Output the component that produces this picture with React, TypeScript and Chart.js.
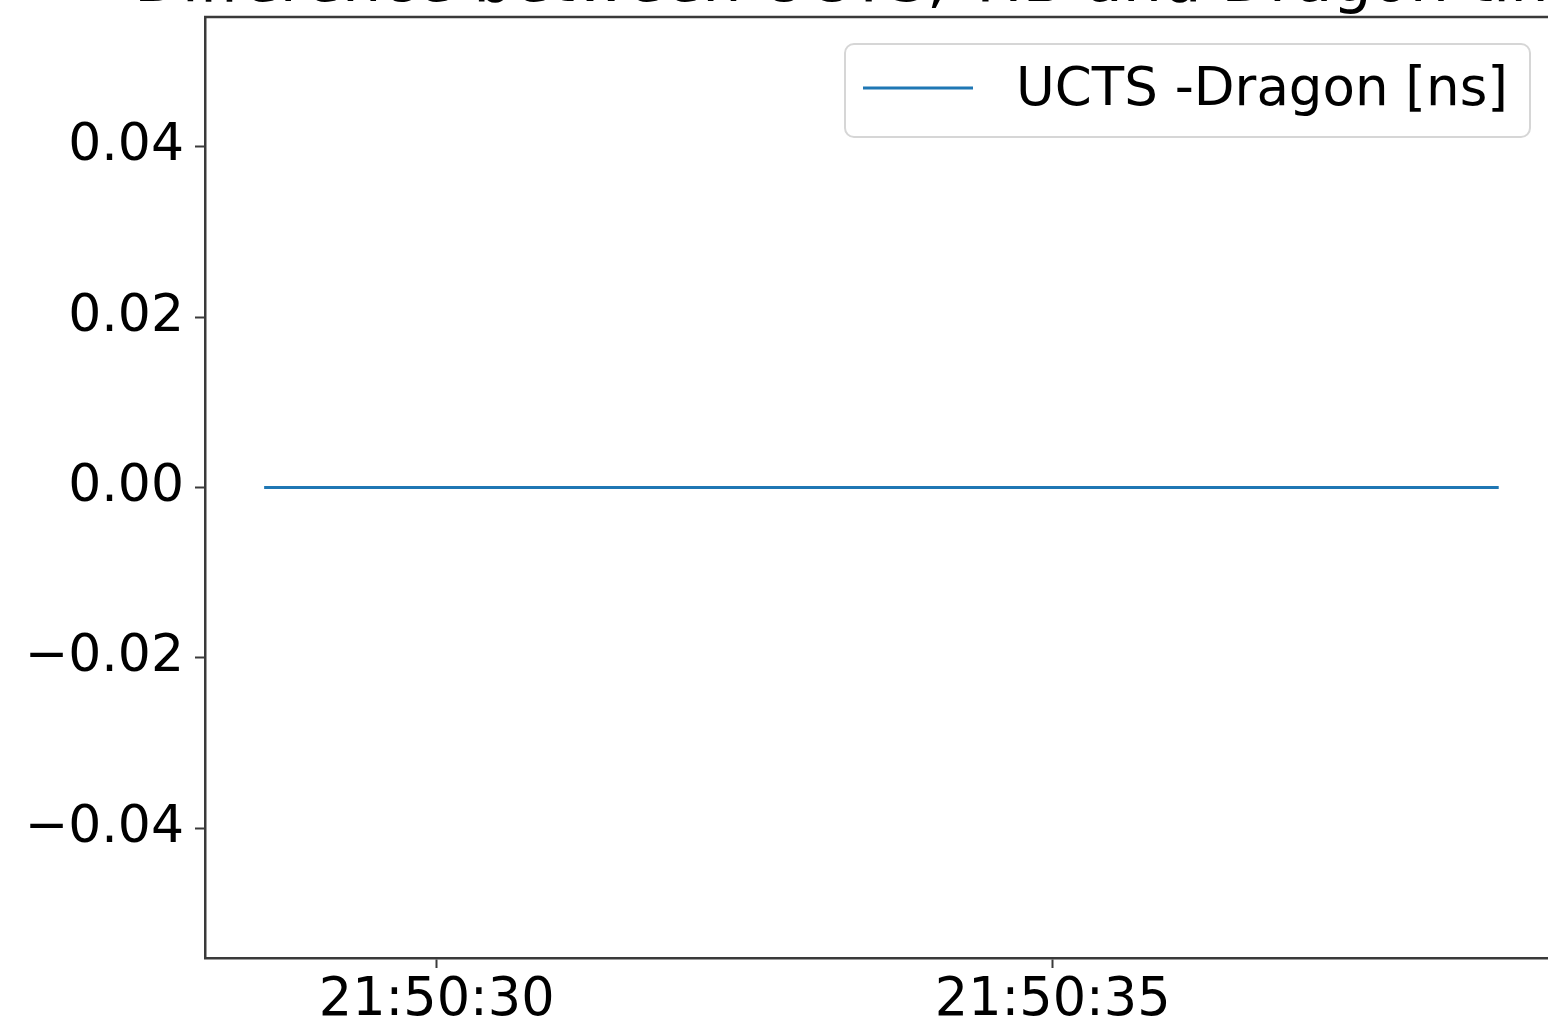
import React, { useEffect, useRef } from "react";
import { Chart, registerables } from "chart.js";

Chart.register(...registerables);

// seconds after 21:50:00
const times = [28.6, 29.6, 30.6, 31.6, 32.6, 33.6, 34.6, 35.6, 36.6, 37.6, 38.62];
const diffValues = [0, 0, 0, 0, 0, 0, 0, 0, 0, 0, 0];
const seriesLabel = "UCTS -Dragon [ns]";
const titleText = "Difference between UCTS, TIB and Dragon time";
const xTickValues = [30, 35];
const xTickLabels = ["21:50:30", "21:50:35"];
const yTickValues = [-0.04, -0.02, 0, 0.02, 0.04];
const xMin = 28.12;
const xMax = 39.02;
const yMin = -0.0552;
const yMax = 0.0552;

const FONT = "'DejaVu Sans', 'Liberation Sans', sans-serif";
const BLUE = "#1f77b4";
const SPINE = "#3a3a3a";

export default function App() {
  const ref = useRef<HTMLCanvasElement>(null);
  useEffect(() => {
    const canvas = ref.current;
    if (!canvas) return;
    const decor = {
      id: "decor",
      afterDraw(chart: any) {
        const ctx = chart.ctx;
        const a = chart.chartArea;
        ctx.save();
        // top spine
        ctx.strokeStyle = SPINE;
        ctx.lineWidth = 2.5;
        ctx.beginPath();
        ctx.moveTo(a.left - 1, a.top);
        ctx.lineTo(a.right, a.top);
        ctx.stroke();
        // title (cut off at top)
        ctx.fillStyle = "#000";
        ctx.font = `62px ${FONT}`;
        ctx.textAlign = "left";
        ctx.textBaseline = "alphabetic";
        ctx.fillText(titleText, 134, 1);
        // legend
        const lx = 845, ly = 44, lw = 685, lh = 93, r = 9;
        ctx.beginPath();
        ctx.roundRect(lx, ly, lw, lh, r);
        ctx.fillStyle = "rgba(255,255,255,0.8)";
        ctx.fill();
        ctx.strokeStyle = "#d6d6d6";
        ctx.lineWidth = 2;
        ctx.stroke();
        ctx.strokeStyle = BLUE;
        ctx.lineWidth = 3;
        ctx.beginPath();
        ctx.moveTo(863, 88);
        ctx.lineTo(973, 88);
        ctx.stroke();
        ctx.fillStyle = "#000";
        ctx.font = `53px ${FONT}`;
        ctx.fillText(chart.data.datasets[0].label, 1016, 105);
        ctx.restore();
      },
    };
    const chart = new Chart(canvas, {
      type: "line",
      data: {
        datasets: [
          {
            label: seriesLabel,
            data: times.map((t, i) => ({ x: t, y: diffValues[i] })),
            borderColor: BLUE,
            borderWidth: 3,
            pointRadius: 0,
            fill: false,
            tension: 0,
          },
        ],
      },
      options: {
        animation: false,
        responsive: false,
        maintainAspectRatio: false,
        layout: { padding: { top: 17, right: 0, left: 0, bottom: 0 } },
        plugins: { legend: { display: false }, tooltip: { enabled: false }, title: { display: false } },
        scales: {
          x: {
            type: "linear",
            min: xMin,
            max: xMax,
            afterBuildTicks: (s: any) => {
              s.ticks = xTickValues.map((v) => ({ value: v }));
            },
            afterFit: (s: any) => {
              s.height = 65;
              s.paddingLeft = 0;
              s.paddingRight = 0;
              s.paddingTop = 0;
              s.paddingBottom = 0;
            },
            ticks: {
              color: "#000",
              font: { family: FONT, size: 52.5 },
              padding: 2,
              maxRotation: 0,
              autoSkip: false,
              callback: (v: any) => {
                const i = xTickValues.indexOf(Number(v));
                return i >= 0 ? xTickLabels[i] : "";
              },
            },
            grid: { drawOnChartArea: false, drawTicks: true, tickLength: 10, tickWidth: 2, tickColor: SPINE },
            border: { display: true, color: SPINE, width: 2.5 },
          },
          y: {
            type: "linear",
            min: yMin,
            max: yMax,
            afterBuildTicks: (s: any) => {
              s.ticks = yTickValues.map((v) => ({ value: v }));
            },
            afterFit: (s: any) => {
              s.width = 205;
              s.paddingLeft = 0;
              s.paddingRight = 0;
              s.paddingTop = 0;
              s.paddingBottom = 0;
            },
            ticks: {
              color: "#000",
              font: { family: FONT, size: 52 },
              padding: 11,
              autoSkip: false,
              callback: (v: any) => Number(v).toFixed(2).replace("-", "\u2212"),
            },
            grid: { drawOnChartArea: false, drawTicks: true, tickLength: 10, tickWidth: 2, tickColor: SPINE },
            border: { display: true, color: SPINE, width: 2.5 },
          },
        },
      },
      plugins: [decor],
    });
    return () => chart.destroy();
  }, []);
  return (
    <div style={{ position: "fixed", left: 0, top: 0, width: 1548, height: 1023, overflow: "hidden", background: "#fff" }}>
      <canvas ref={ref} width={1548} height={1023} style={{ display: "block", width: 1548, height: 1023 }} />
    </div>
  );
}
